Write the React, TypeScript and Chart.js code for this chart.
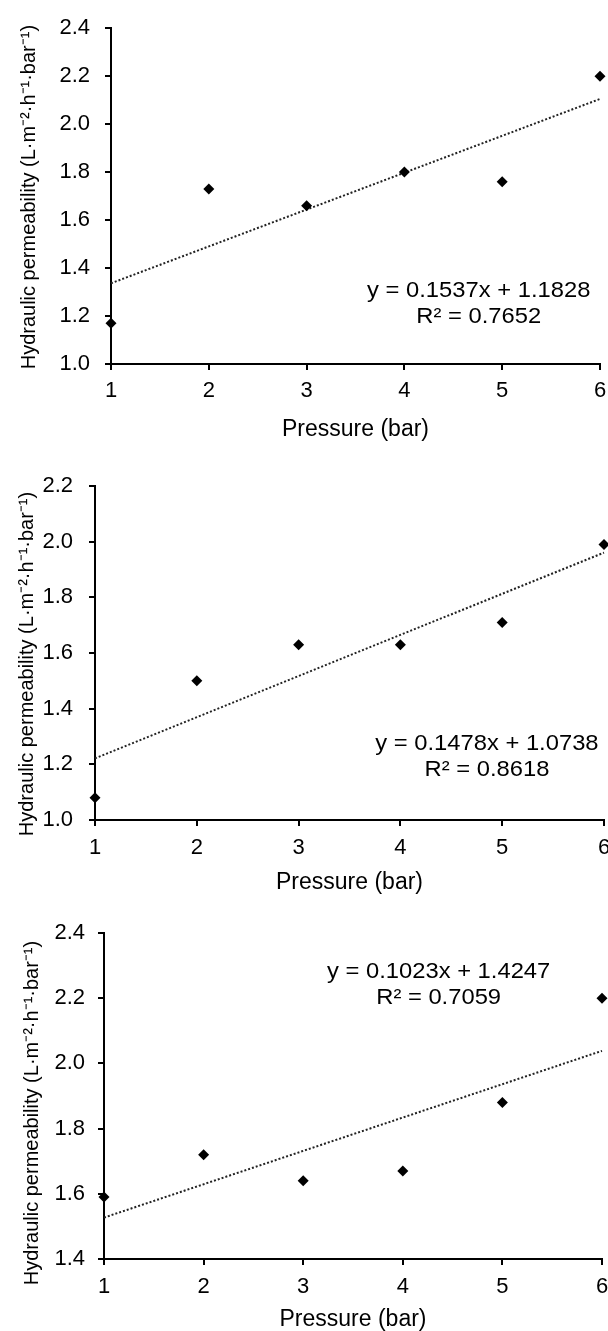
import React, { useEffect, useRef } from "react";
import { Chart, registerables } from "chart.js";

Chart.register(...registerables);

// ---------- data ----------
const pressure = [1, 2, 3, 4, 5, 6];
const xTickLabels = [1, 2, 3, 4, 5, 6];

const permeabilityA = [1.17, 1.73, 1.66, 1.8, 1.76, 2.2];
const permeabilityB = [1.08, 1.5, 1.63, 1.63, 1.71, 1.99];
const permeabilityC = [1.59, 1.72, 1.64, 1.67, 1.88, 2.2];

// trendline end points (x = 1 and x = 6)
const trendX = [1, 6];
const trendA = [1.3365, 2.105];
const trendB = [1.2216, 1.9606];
const trendC = [1.527, 2.0385];

const equationA = ["y = 0.1537x + 1.1828", "R\u00b2 = 0.7652"];
const equationB = ["y = 0.1478x + 1.0738", "R\u00b2 = 0.8618"];
const equationC = ["y = 0.1023x + 1.4247", "R\u00b2 = 0.7059"];

const yTicksA = [1.0, 1.2, 1.4, 1.6, 1.8, 2.0, 2.2, 2.4];
const yTicksB = [1.0, 1.2, 1.4, 1.6, 1.8, 2.0, 2.2];
const yTicksC = [1.4, 1.6, 1.8, 2.0, 2.2, 2.4];

const xTitle = "Pressure (bar)";
const yTitle = "Hydraulic permeability (L\u00b7m\u207b\u00b2\u00b7h\u207b\u00b9\u00b7bar\u207b\u00b9)";

const FONT = "'Liberation Sans', Arial, Helvetica, sans-serif";
const CANVAS_W = 640;

// draws the trendline equation and the y-axis title
const annotationPlugin = {
  id: "annot",
  afterDatasetsDraw(chart: any, _args: any, opts: any) {
    if (!opts) return;
    const { ctx, chartArea } = chart;
    const xs = chart.scales.x;
    const ys = chart.scales.y;
    ctx.save();
    ctx.font = `22px ${FONT}`;
    ctx.fillStyle = "#000";
    ctx.textAlign = "center";
    ctx.textBaseline = "middle";
    opts.lines.forEach((line: string, i: number) => {
      const px = xs.getPixelForValue(opts.x);
      const py = ys.getPixelForValue(opts.y[i]);
      ctx.save();
      ctx.translate(px, py);
      ctx.scale(1.08, 1);
      ctx.fillText(line, 0, 0);
      ctx.restore();
    });
    // y-axis title
    ctx.font = `20px ${FONT}`;
    ctx.translate(opts.titleX, (chartArea.top + chartArea.bottom) / 2 + opts.titleShift);
    ctx.rotate(-Math.PI / 2);
    ctx.fillText(yTitle, 0, 0);
    ctx.restore();
  },
};

type Props = {
  top: number;
  height: number;
  values: number[];
  trend: number[];
  yTicks: number[];
  equation: string[];
  eqX: number;
  eqY: number[];
  padTop: number;
  padRight: number;
  yAxisWidth: number;
  xAxisHeight: number;
  xTickPad: number;
  xTitlePad: number;
  yTickPad: number;
  titleX: number;
  titleShift: number;
};

function PermeabilityChart(p: Props) {
  const ref = useRef<HTMLCanvasElement>(null);
  useEffect(() => {
    if (!ref.current) return;
    const points = pressure.map((x, i) => ({ x, y: p.values[i] }));
    const trendPts = trendX.map((x, i) => ({ x, y: p.trend[i] }));
    const yMin = p.yTicks[0];
    const yMax = p.yTicks[p.yTicks.length - 1];
    const chart = new Chart(ref.current, {
      type: "scatter",
      data: {
        datasets: [
          {
            type: "scatter",
            data: points,
            pointStyle: "rectRot",
            pointRadius: 5.5,
            pointHoverRadius: 5.5,
            backgroundColor: "#000",
            borderColor: "#000",
            borderWidth: 0,
            order: 0,
            clip: false,
          } as any,
          {
            type: "line",
            data: trendPts,
            borderColor: "#222",
            borderWidth: 2,
            borderDash: [2, 2],
            pointRadius: 0,
            fill: false,
            tension: 0,
            order: 1,
            clip: false,
          } as any,
        ],
      },
      options: {
        animation: false,
        responsive: false,
        devicePixelRatio: 1,
        events: [],
        layout: { padding: { top: p.padTop, right: p.padRight, bottom: 0, left: 0 } },
        plugins: {
          legend: { display: false },
          tooltip: { enabled: false },
          annot: {
            lines: p.equation,
            x: p.eqX,
            y: p.eqY,
            titleX: p.titleX,
            titleShift: p.titleShift,
          },
        } as any,
        scales: {
          x: {
            type: "linear",
            min: 1,
            max: 6,
            afterBuildTicks: (s: any) => {
              s.ticks = xTickLabels.map((v) => ({ value: v }));
            },
            afterFit: (s: any) => {
              s.height = p.xAxisHeight;
            },
            ticks: {
              color: "#000",
              font: { family: FONT, size: 22 },
              padding: p.xTickPad,
              maxRotation: 0,
              callback: (v: any) => String(v),
            },
            grid: {
              display: true,
              drawOnChartArea: false,
              drawTicks: true,
              tickLength: 6,
              tickWidth: 2,
              color: "#000",
              lineWidth: 2,
            },
            border: { display: true, color: "#000", width: 2 },
            title: {
              display: true,
              text: xTitle,
              color: "#000",
              font: { family: FONT, size: 23 },
              padding: { top: 0, bottom: p.xTitlePad },
            },
          },
          y: {
            type: "linear",
            min: yMin,
            max: yMax,
            afterBuildTicks: (s: any) => {
              s.ticks = p.yTicks.map((v) => ({ value: v }));
            },
            afterFit: (s: any) => {
              s.width = p.yAxisWidth;
            },
            ticks: {
              color: "#000",
              font: { family: FONT, size: 22 },
              padding: p.yTickPad,
              callback: (v: any) => Number(v).toFixed(1),
            },
            grid: {
              display: true,
              drawOnChartArea: false,
              drawTicks: true,
              tickLength: 6,
              tickWidth: 2,
              color: "#000",
              lineWidth: 2,
            },
            border: { display: true, color: "#000", width: 2 },
          },
        },
      } as any,
      plugins: [annotationPlugin as any],
    });
    return () => chart.destroy();
  }, []);

  return (
    <div style={{ position: "absolute", left: 0, top: p.top, width: CANVAS_W, height: p.height }}>
      <canvas
        ref={ref}
        width={CANVAS_W}
        height={p.height}
        style={{ width: CANVAS_W, height: p.height, display: "block" }}
      />
    </div>
  );
}

export default function App() {
  return (
    <div
      style={{
        position: "fixed",
        left: 0,
        top: 0,
        width: 608,
        height: 1331,
        overflow: "hidden",
        background: "#fff",
      }}
    >
      <PermeabilityChart
        top={0}
        height={444}
        values={permeabilityA}
        trend={trendA}
        yTicks={yTicksA}
        equation={equationA}
        eqX={4.76}
        eqY={[1.305, 1.198]}
        padTop={24}
        padRight={40}
        yAxisWidth={111}
        xAxisHeight={80}
        xTickPad={8}
        xTitlePad={1}
        yTickPad={15}
        titleX={29}
        titleShift={1}
      />
      <PermeabilityChart
        top={444}
        height={456}
        values={permeabilityB}
        trend={trendB}
        yTicks={yTicksB}
        equation={equationB}
        eqX={4.85}
        eqY={[1.273, 1.18]}
        padTop={42}
        padRight={36}
        yAxisWidth={95}
        xAxisHeight={80}
        xTickPad={9}
        xTitlePad={4}
        yTickPad={16}
        titleX={27}
        titleShift={11}
      />
      <PermeabilityChart
        top={900}
        height={434}
        values={permeabilityC}
        trend={trendC}
        yTicks={yTicksC}
        equation={equationC}
        eqX={4.36}
        eqY={[2.28, 2.2]}
        padTop={33}
        padRight={38}
        yAxisWidth={104}
        xAxisHeight={75}
        xTickPad={9}
        xTitlePad={1}
        yTickPad={13}
        titleX={32}
        titleShift={17}
      />
    </div>
  );
}
